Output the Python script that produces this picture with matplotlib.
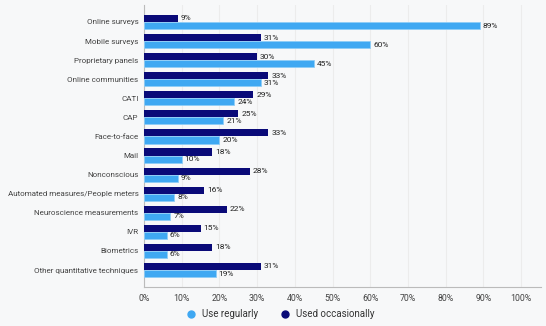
import numpy as np
import matplotlib.pyplot as plt
from matplotlib.lines import Line2D

categories = ['Online surveys', 'Mobile surveys', 'Proprietary panels', 'Online communities',
              'CATI', 'CAP', 'Face-to-face', 'Mail', 'Nonconscious',
              'Automated measures/People meters', 'Neuroscience measurements', 'IVR',
              'Biometrics', 'Other quantitative techniques']
used_regularly = [89, 60, 45, 31, 24, 21, 20, 10, 9, 8, 7, 6, 6, 19]
used_occasionally = [9, 31, 30, 33, 29, 25, 33, 18, 28, 16, 22, 15, 18, 31]
xticks = [0, 10, 20, 30, 40, 50, 60, 70, 80, 90, 100]

bg = '#f7f8f9'
light = '#3fa8f2'
dark = '#0a0a78'
textc = '#444444'

plt.rcParams['font.family'] = 'Roboto'

fig = plt.figure(figsize=(5.46, 3.26), dpi=100, facecolor=bg)
ax = fig.add_axes([144/546, 1-287/326, 397/546, 282/326], facecolor=bg)

y = np.arange(len(categories))
h = 0.37
ax.barh(y - h/2, used_occasionally, height=h, color=dark, label='Used occasionally', zorder=3)
ax.barh(y + h/2, used_regularly, height=h, color=light, edgecolor='#8fcdf7', linewidth=0.6,
        label='Use regularly', zorder=3)

for i in range(len(categories)):
    ax.text(used_occasionally[i] + 0.8, y[i] - h/2, f'{used_occasionally[i]}%',
            va='center', ha='left', fontsize=6, color='#222222', zorder=4)
    ax.text(used_regularly[i] + 0.8, y[i] + h/2, f'{used_regularly[i]}%',
            va='center', ha='left', fontsize=6, color='#222222', zorder=4)

ax.set_xlim(0, 105.3)
ax.set_ylim(len(categories) - 1 + 0.89, -0.89)
ax.set_yticks(y)
ax.set_yticklabels(categories, fontsize=5.8, color=textc)
ax.set_xticks(xticks)
ax.set_xticklabels([f'{t}%' for t in xticks], fontsize=6.3, color=textc)
ax.tick_params(axis='both', length=0, pad=5)
ax.tick_params(axis='y', pad=4)

ax.grid(axis='x', color='#ececec', linewidth=0.8, zorder=0)
for s in ['top', 'right']:
    ax.spines[s].set_visible(False)
ax.spines['left'].set_color('#bbbbbb')
ax.spines['bottom'].set_color('#bbbbbb')
ax.spines['left'].set_linewidth(0.8)
ax.spines['bottom'].set_linewidth(0.8)

leg_handles = [Line2D([], [], marker='o', linestyle='', color=light, markersize=5),
               Line2D([], [], marker='o', linestyle='', color=dark, markersize=5)]
fig.legend(leg_handles, ['Use regularly', 'Used occasionally'], loc='center',
           bbox_to_anchor=(278/546, 1-314/326), ncol=2, frameon=False, fontsize=7,
           handletextpad=0.1, columnspacing=1.8, labelcolor='#333333')

plt.savefig('out.png', dpi=100, facecolor=bg)
